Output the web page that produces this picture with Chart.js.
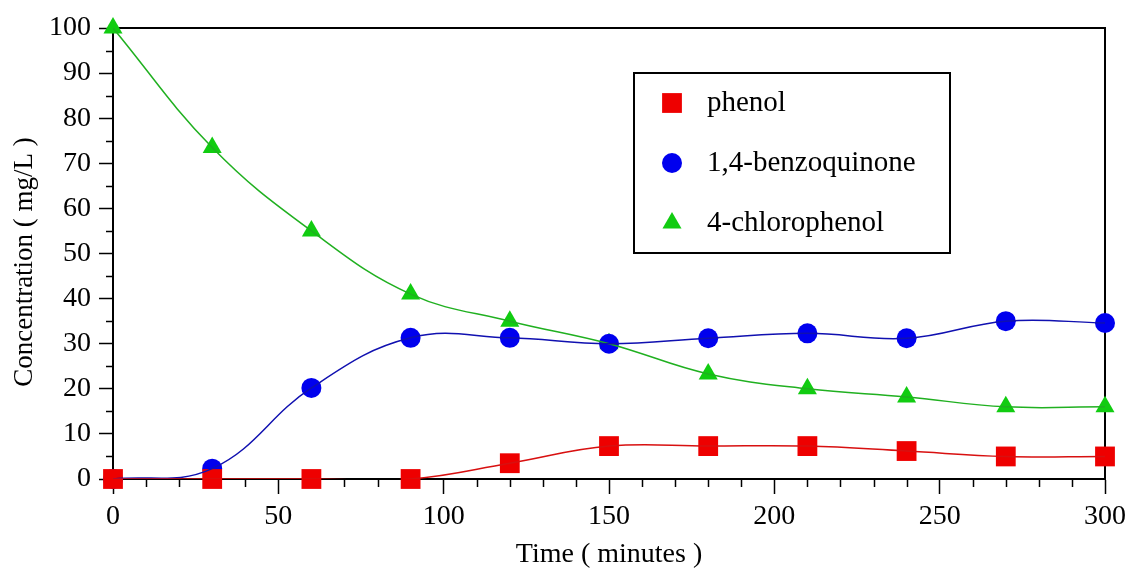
<!DOCTYPE html>
<html>
<head>
<meta charset="utf-8">
<script src="https://cdn.jsdelivr.net/npm/chart.js@4/dist/chart.umd.min.js"></script>
<style>
  html, body { margin: 0; padding: 0; background: #fff; }
  #wrap { width: 1129px; height: 571px; }
</style>
</head>
<body>
<div id="wrap"><canvas id="concChart" width="1129" height="571"></canvas></div>
<script>
// time in minutes
const times = [0, 30, 60, 90, 120, 150, 180, 210, 240, 270, 300];
// concentrations in mg/L
const phenol = [0, 0, 0, 0, 3.5, 7.3, 7.3, 7.3, 6.2, 5.0, 5.0];
const benzoquinone = [0, 2.3, 20.2, 31.3, 31.3, 30.0, 31.2, 32.3, 31.2, 35.0, 34.6];
const chlorophenol = [100, 73.5, 55.0, 41.0, 35.0, 30.0, 23.3, 20.0, 18.2, 16.0, 16.0];
const seriesNames = ['phenol', '1,4-benzoquinone', '4-chlorophenol'];
const yTitle = 'Concentration ( mg/L )';
const xTitle = 'Time ( minutes )';

const FONT = '"Liberation Serif", "Times New Roman", serif';

const series = [
  { name: seriesNames[0], values: phenol, line: '#d81010', fill: '#ee0000', shape: 'rect', r: 14 },
  { name: seriesNames[1], values: benzoquinone, line: '#1010b0', fill: '#0000ee', shape: 'circle', r: 10 },
  { name: seriesNames[2], values: chlorophenol, line: '#20b020', fill: '#11cc11', shape: 'triangle', r: 11 }
];

const toXY = vals => times.map((t, i) => ({ x: t, y: vals[i] }));

const datasets = [];
// curves (clipped to plot area)
series.forEach(s => datasets.push({
  label: s.name,
  data: toXY(s.values),
  borderColor: s.line,
  borderWidth: 1.5,
  pointRadius: 0,
  tension: 0.4,
  fill: false
}));
// markers (not clipped)
series.forEach(s => datasets.push({
  label: s.name + ' markers',
  data: toXY(s.values),
  showLine: false,
  pointStyle: s.shape,
  pointRadius: s.r,
  pointHoverRadius: s.r,
  pointBackgroundColor: s.fill,
  pointBorderColor: s.fill,
  pointBorderWidth: 0,
  clip: false
}));

// top/right frame, minor ticks, y title
const framePlugin = {
  id: 'frame',
  beforeDatasetsDraw(chart) {
    const { ctx, chartArea: a, scales: { x, y } } = chart;
    ctx.save();
    ctx.strokeStyle = '#000';
    ctx.lineWidth = 2;
    ctx.beginPath();
    ctx.moveTo(a.left, a.top);
    ctx.lineTo(a.right, a.top);
    ctx.lineTo(a.right, a.bottom);
    ctx.stroke();
    ctx.lineWidth = 1.5;
    ctx.beginPath();
    // minor ticks
    for (let v = 5; v < 100; v += 10) {
      const py = Math.round(y.getPixelForValue(v)) + 0.5;
      ctx.moveTo(a.left - 7, py);
      ctx.lineTo(a.left, py);
    }
    for (let v = 10; v < 300; v += 10) {
      if (v % 50 === 0) continue;
      const px = Math.round(x.getPixelForValue(v)) + 0.5;
      ctx.moveTo(px, a.bottom);
      ctx.lineTo(px, a.bottom + 8);
    }
    ctx.stroke();
    // y axis title
    ctx.translate(25, 262);
    ctx.rotate(-Math.PI / 2);
    ctx.fillStyle = '#000';
    ctx.font = '27px ' + FONT;
    ctx.textAlign = 'center';
    ctx.textBaseline = 'middle';
    ctx.fillText(yTitle, 0, 0);
    ctx.restore();
  }
};

// boxed legend inside the plot
const legendPlugin = {
  id: 'boxLegend',
  afterDraw(chart) {
    const { ctx } = chart;
    const bx = 634, by = 73, bw = 316, bh = 180;
    ctx.save();
    ctx.fillStyle = '#fff';
    ctx.fillRect(bx, by, bw, bh);
    ctx.strokeStyle = '#000';
    ctx.lineWidth = 2;
    ctx.strokeRect(bx, by, bw, bh);
    series.forEach((s, i) => {
      const cx = bx + 38, cy = by + 30 + i * 60;
      ctx.fillStyle = s.fill;
      ctx.beginPath();
      if (s.shape === 'rect') {
        const h = s.r * Math.SQRT1_2;
        ctx.rect(cx - h, cy - h, 2 * h, 2 * h);
      } else if (s.shape === 'circle') {
        ctx.arc(cx, cy, s.r, 0, Math.PI * 2);
      } else {
        const r = s.r;
        ctx.moveTo(cx, cy - r);
        ctx.lineTo(cx + r * 0.866, cy + r * 0.5);
        ctx.lineTo(cx - r * 0.866, cy + r * 0.5);
        ctx.closePath();
      }
      ctx.fill();
      ctx.fillStyle = '#000';
      ctx.font = '29px ' + FONT;
      ctx.textBaseline = 'middle';
      ctx.textAlign = 'left';
      ctx.fillText(s.name, bx + 73, cy);
    });
    ctx.restore();
  }
};

const ctx = document.getElementById('concChart').getContext('2d');
const concChart = new Chart(ctx, {
  type: 'line',
  data: { datasets: datasets },
  options: {
    responsive: false,
    animation: false,
    events: [],
    layout: { padding: { left: 9, right: 24, top: 28, bottom: 0 } },
    elements: { line: { capBezierPoints: false } },
    plugins: { legend: { display: false }, tooltip: { enabled: false } },
    scales: {
      x: {
        type: 'linear',
        min: 0,
        max: 300,
        afterFit(scale) { scale.height = 92; scale.paddingRight = 0; scale.paddingLeft = 0; },
        ticks: { stepSize: 50, color: '#000', padding: 6, font: { family: FONT, size: 28 } },
        grid: { drawOnChartArea: false, tickLength: 15, tickColor: '#000', tickWidth: 1.5 },
        border: { display: true, color: '#000', width: 2 },
        title: { display: true, text: xTitle, color: '#000', padding: { top: 0, bottom: 0 }, font: { family: FONT, size: 28 } }
      },
      y: {
        min: 0,
        max: 100,
        afterFit(scale) { scale.width = 104; scale.paddingTop = 0; scale.paddingBottom = 0; },
        ticks: { stepSize: 10, color: '#000', padding: 8, font: { family: FONT, size: 28 } },
        grid: { drawOnChartArea: false, tickLength: 14, tickColor: '#000', tickWidth: 1.5 },
        border: { display: true, color: '#000', width: 2 },
        title: { display: false }
      }
    }
  },
  plugins: [framePlugin, legendPlugin]
});
</script>
</body>
</html>
